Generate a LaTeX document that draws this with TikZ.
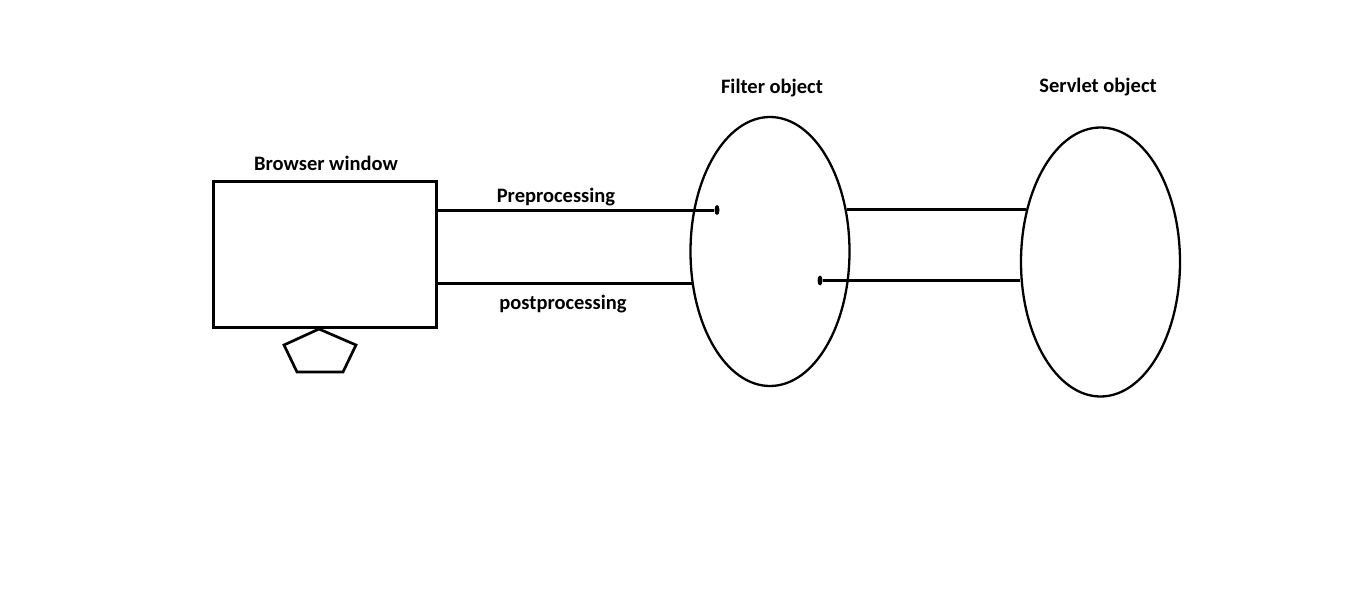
\documentclass[tikz,border=0pt]{standalone}
\usepackage{fontspec}
\setmainfont{Carlito}
\usetikzlibrary{shapes.geometric,positioning}

\begin{document}
\begin{tikzpicture}[x=1pt,y=-1pt]
    \tikzset{box/.style={draw,line width=3pt,minimum width=223pt,minimum height=146pt,inner sep=0pt}}
    \tikzset{obj/.style={draw,ellipse,line width=2.3pt,minimum width=159pt,minimum height=269pt,inner sep=0pt}}
    \tikzset{dot/.style={fill,ellipse,minimum width=5pt,minimum height=10pt,inner sep=0pt}}
    \tikzset{lbl/.style={font=\fontsize{20.5}{24}\selectfont\bfseries,inner sep=0pt,anchor=base}}
    \tikzset{wire/.style={line width=3pt}}
    \useasboundingbox (0,0) rectangle (1360,594);
    % browser with its stand
    \node[box] (browser) at (324.5,254) {};
    \draw[line width=2.7pt,line join=miter] (319,329) -- (356,345) -- (343,372)
        -- (297,372) -- (284,345) -- cycle;
    % the two objects
    \node[obj] (filter) at (770,251.5) {};
    \node[obj] (servlet) at (1100.5,262) {};
    \node[dot] (pre) at (717,210) {};
    \node[dot] (post) at (820,280.5) {};
    % labels
    \node[lbl] (browserlbl) at (326,170.5) {Browser window};
    \node[lbl] (filterlbl) at (772,93) {Filter object};
    \node[lbl] (servletlbl) at (1098,92.5) {Servlet object};
    \node[lbl] (prelbl) at (556,202) {Preprocessing};
    \node[lbl] (postlbl) at (563,309) {postprocessing};
    % connections
    \draw[wire] (pre -| browser.east) -- (pre);
    \draw[wire] (filter.202 -| browser.east) -- (filter.202);
    \draw[wire] (filter.29) -- (filter.29 -| servlet.144);
    \draw[wire] (post) -- (post -| servlet.west);
\end{tikzpicture}
\end{document}
